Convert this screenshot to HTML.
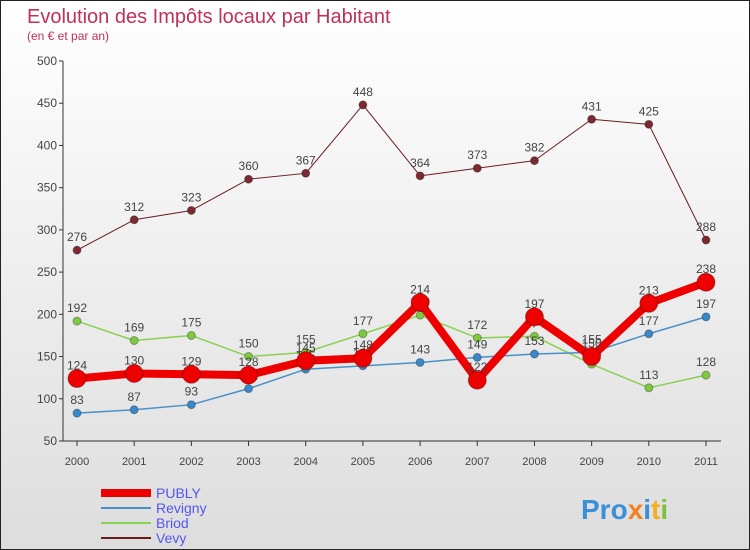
<!DOCTYPE html>
<html><head><meta charset="utf-8"><style>
body{margin:0}
#c{width:750px;height:550px;position:relative;overflow:hidden;font-family:"Liberation Sans",sans-serif;background:linear-gradient(#fff,#ddd);box-sizing:border-box;border:1px solid #222}
</style></head><body>
<div id="c">
<svg id="s" width="750" height="550" style="position:absolute;left:0;top:0">
<text x="26" y="22" font-size="20" fill="#c0305a">Evolution des Impôts locaux par Habitant</text>
<text x="26" y="39" font-size="12" fill="#c0305a">(en € et par an)</text>
<text x="580" y="518" font-size="28" font-weight="bold" fill="#3a8fd8">Pro<tspan fill="#f08020">x</tspan><tspan fill="#3a8fd8">i</tspan><tspan fill="#f0b020">t</tspan><tspan fill="#80c040">i</tspan></text>
</svg>
</div>
<script>
const years=["2000","2001","2002","2003","2004","2005","2006","2007","2008","2009","2010","2011"];
const yTicks=[50,100,150,200,250,300,350,400,450,500];
const publy=[124,130,129,128,145,148,214,122,197,150,213,238];
const revigny=[83,87,93,112,135,139,143,149,153,155,177,197];
const briod=[192,169,175,150,155,177,199,172,174,141,113,128];
const vevy=[276,312,323,360,367,448,364,373,382,431,425,288];
const NS="http://www.w3.org/2000/svg",s=document.getElementById('s');
const X=i=>76+i*(705-76)/11, Y=v=>440-(v-50)*(380/450);
function el(t,a,p){const e=document.createElementNS(NS,t);for(const k in a)e.setAttribute(k,a[k]);(p||s).appendChild(e);return e;}
const ax=el('line',{x1:62,y1:60,x2:62,y2:440,stroke:'#333'});


const bx=el('line',{x1:62,y1:440,x2:720,y2:440,stroke:'#333'});


yTicks.forEach(v=>{
 el('line',{x1:58,y1:Y(v),x2:62,y2:Y(v),stroke:'#333'});
 const t=el('text',{x:56,y:Y(v)+4,'font-size':12,'text-anchor':'end',fill:'#444'});t.textContent=v;
 
 
});
years.forEach((y,i)=>{
 el('line',{x1:X(i),y1:440,x2:X(i),y2:445,stroke:'#333'});
 const t=el('text',{x:X(i),y:464,'font-size':11,'text-anchor':'middle',fill:'#444'});t.textContent=y;
 
 
});
const series=[["vevy",vevy,'#6b1a20',1,4,'#7a2a30'],["briod",briod,'#8ad050',1.5,4,'#80c840'],["revigny",revigny,'#4a90c8',1.5,4,'#3a88c8'],["publy",publy,'#ee0000',8,9,'#e00']];
series.forEach(([n,d,c,w,r,f])=>{
 const p=el('polyline',{points:d.map((v,i)=>X(i)+','+Y(v)).join(' '),fill:'none',stroke:c,'stroke-width':w,'stroke-linejoin':'round'});
 
 
 d.forEach((v,i)=>{
  const m=el('circle',{cx:X(i),cy:Y(v),r:r,fill:f,stroke:'rgba(0,0,0,0.3)'});
  
  
  const t=el('text',{x:X(i),y:Y(v)-9,'font-size':12,'text-anchor':'middle',fill:'#444'});t.textContent=v;
  
  
 });
});
const leg=[["PUBLY",'#ee0000',8],["Revigny",'#4a90c8',2],["Briod",'#8ad050',2],["Vevy",'#6b1a20',2]];
leg.forEach(([n,c,w],i)=>{
 const y=492+i*15;
 const l=el('line',{x1:100,y1:y,x2:150,y2:y,stroke:c,'stroke-width':w});
 
 
 const t=el('text',{x:155,y:y+5,'font-size':14,fill:'#5555ee'});t.textContent=n;
 
 
});
</script>
</body></html>
